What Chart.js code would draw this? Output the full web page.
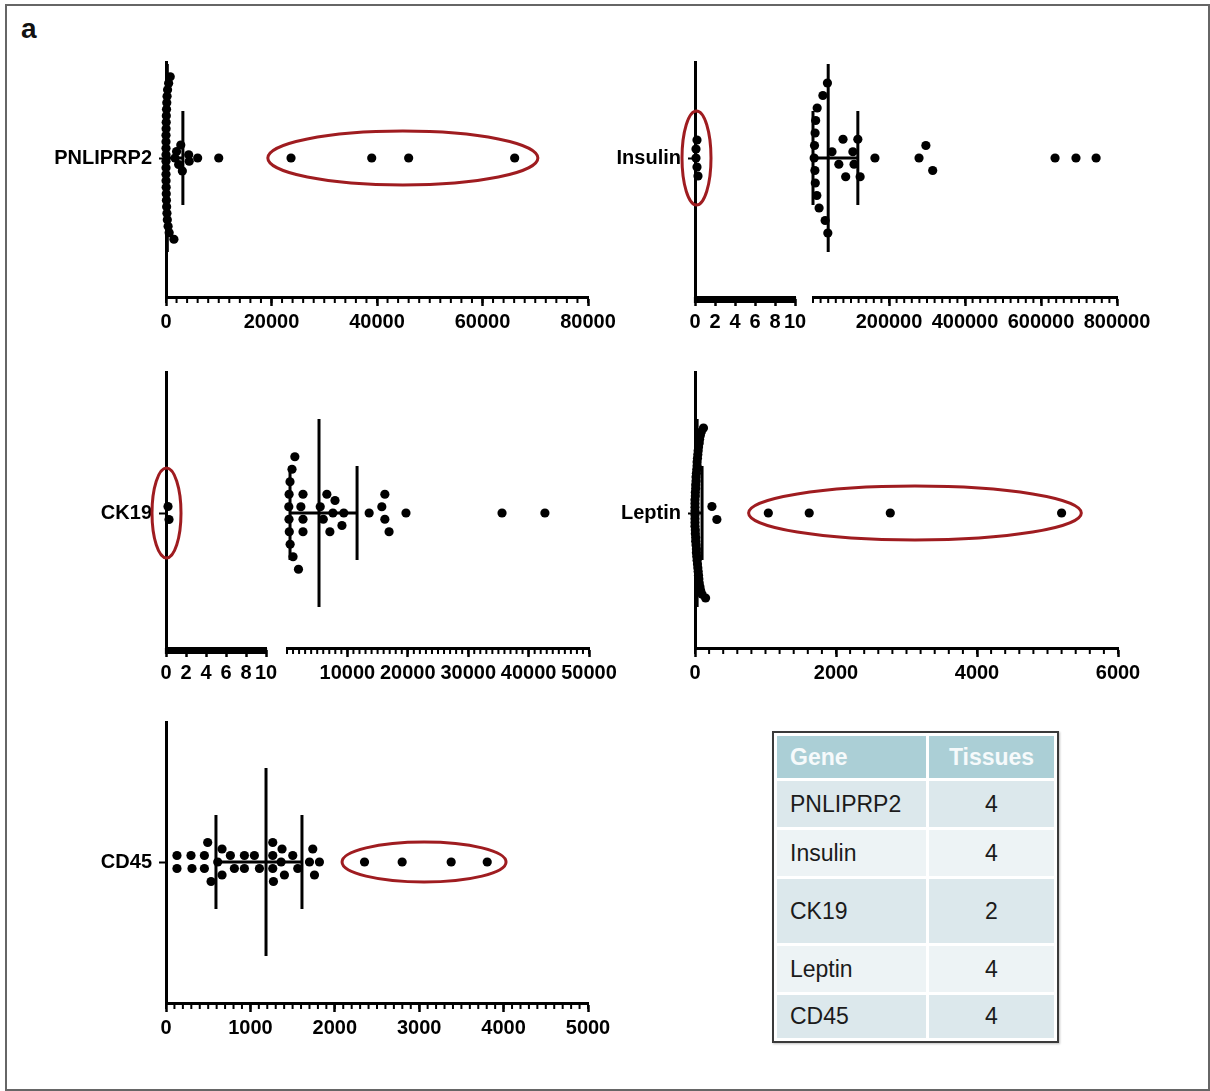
<!DOCTYPE html>
<html>
<head>
<meta charset="utf-8">
<script src="https://cdn.jsdelivr.net/npm/chart.js@4.4.1/dist/chart.umd.min.js"></script>
<style>
  body { margin: 0; background: #fff; }
  #fig { position: relative; width: 1210px; height: 1091px; overflow: hidden; font-family: 'Liberation Sans', Arial, sans-serif; }
  #frame { position: absolute; left: 5px; top: 4px; width: 1201px; height: 1083px; border: 2px solid #666; }
  #tag { position: absolute; left: 21px; top: 13px; font-size: 28px; font-weight: bold; color: #111; }
  canvas { position: absolute; }
  #tissues { position: absolute; left: 772px; top: 731px; border: 2px solid #3a3a3a; border-collapse: separate; border-spacing: 3px;
             background: #fff; font-size: 23px; color: #1b1b1b; box-shadow: 1px 1px 2px rgba(0,0,0,.25); }
  #tissues th, #tissues td { box-sizing: border-box; padding: 0 0 0 13px; text-align: left; font-weight: normal; }
  #tissues th { background: #abcfd6; color: #f6fafb; font-weight: bold; height: 42px; }
  #tissues td.n, #tissues th.n { text-align: center; padding: 0; }
  #tissues tr:nth-child(odd) td { background: #dce8ec; }
  #tissues tr:nth-child(even) td { background: #edf3f5; }
</style>
</head>
<body>
<div id="fig">
  <div id="frame"></div>
  <div id="tag">a</div>
  <table id="tissues">
    <thead><tr><th style="width:149px">Gene</th><th class="n" style="width:125px">Tissues</th></tr></thead>
    <tbody id="tissueRows"></tbody>
  </table>
</div>
<script>
// values (one dot per sample)
const genes   = ['PNLIPRP2', 'Insulin', 'CK19', 'Leptin', 'CD45'];
const tissues = [4, 4, 2, 4, 4];
const rowHeights = [46, 46, 64, 46, 43];

const pnliprp2 = [0, 0, 0, 0, 0, 0, 0, 10, 20, 30, 40, 50, 60, 80, 100, 120, 150, 180, 200, 250, 300, 400, 500, 600, 800, 1500,
  1700, 2000, 2400, 2800, 3100, 4300, 4400, 6000, 10000, 23700, 39000, 46000, 66100];
const insulin = [0.1, 0.1, 0.2, 0.2, 0.3,
  3000, 4000, 5000, 5500, 6000, 7000, 10000, 11000, 16000, 26000, 32000, 38000, 39000,
  50000, 68000, 79000, 86000, 105000, 108000, 118000, 124000, 163000,
  279000, 297000, 315000, 637000, 692000, 745000];
const ck19 = [0.2, 0.3,
  300, 330, 350, 380, 500, 520, 830, 1000, 1300, 1900,
  2300, 2650, 2650, 2650, 5500, 6000, 6600, 7100, 7600, 7950, 9100, 9400,
  13600, 15700, 16200, 16200, 16900, 19700, 35600, 42700];
const leptin = [0, 0, 0, 0, 0, 0, 0, 0, 5, 5, 5, 5, 10, 10, 10, 10, 15, 15, 15, 20, 20, 20, 25, 25,
  30, 30, 30, 35, 35, 40, 40, 45, 45, 50, 50, 55, 60, 60, 65, 70, 75, 80, 90, 100, 120, 150,
  240, 310, 1040, 1620, 2770, 5200];
const cd45 = [130, 130, 296, 308, 455, 455, 494, 534, 613, 664, 664, 763, 810, 929, 929, 1047, 1107,
  1265, 1265, 1265, 1273, 1364, 1375, 1403, 1502, 1561, 1700, 1739, 1759, 1818, 2352, 2798, 3379, 3806];

// median, lower quartile, upper quartile
const pnliprp2Stats = [250, 0, 3200];
const insulinStats  = [40000, 0, 118000];
const ck19Stats     = [5300, 500, 11600];
const leptinStats   = [30, 5, 100];
const cd45Stats     = [1185, 592, 1611];

// tick labels
const pnliprp2Ticks = [0, 20000, 40000, 60000, 80000];
const lowTicks      = [0, 2, 4, 6, 8, 10];
const insulinTicks  = [200000, 400000, 600000, 800000];
const ck19Ticks     = [10000, 20000, 30000, 40000, 50000];
const leptinTicks   = [0, 2000, 4000, 6000];
const cd45Ticks     = [0, 1000, 2000, 3000, 4000, 5000];

// circled samples (value span of each red ring)
const pnliprp2Ring = [19300, 70500];
const insulinRing  = [-1.3, 1.6];
const ck19Ring     = [-1.4, 1.5];
const leptinRing   = [760, 5480];
const cd45Ring     = [2086, 4029];

// table
document.getElementById('tissueRows').innerHTML = genes.map((g, i) =>
  `<tr style="height:${rowHeights[i]}px"><td>${g}</td><td class="n">${tissues[i]}</td></tr>`).join('');

Chart.defaults.font.family = "'Liberation Sans', Arial, sans-serif";
Chart.defaults.color = '#000';

const TICK_FONT = { size: 20, weight: 'bold' };
const MEDIAN_HALF = 94, QUART_HALF = 47;

// small ticks under the x axis
const minorTicks = {
  id: 'minorTicks',
  afterDraw(chart, args, opts) {
    const s = chart.scales.x, ctx = chart.ctx;
    const n = Math.round((s.max - s.min) / opts.step);
    ctx.save();
    ctx.strokeStyle = '#000';
    ctx.lineWidth = opts.width;
    ctx.beginPath();
    for (let i = 0; i <= n; i++) {
      const x = s.getPixelForValue(s.min + i * opts.step);
      ctx.moveTo(x, s.top);
      ctx.lineTo(x, s.top + opts.len);
    }
    ctx.stroke();
    ctx.restore();
  }
};

// red ring round the marked samples
const outlierRing = {
  id: 'outlierRing',
  afterDatasetsDraw(chart, args, opts) {
    if (!opts.range) return;
    const x = chart.scales.x, y = chart.scales.y, ctx = chart.ctx;
    const x0 = x.getPixelForValue(opts.range[0]), x1 = x.getPixelForValue(opts.range[1]);
    const cy = y.getPixelForValue(0);
    const ry = Math.abs(y.getPixelForValue(opts.half) - cy);
    ctx.save();
    ctx.strokeStyle = '#9f1c20';
    ctx.lineWidth = 3;
    ctx.beginPath();
    ctx.ellipse((x0 + x1) / 2, cy, (x1 - x0) / 2, ry, 0, 0, Math.PI * 2);
    ctx.stroke();
    ctx.restore();
  }
};

// prism-like scatter: dots that fall in the same bin are stacked, smallest in the middle
function swarm(values, scale, binPx, stepPx, spanPx) {
  const order = values.map((v, i) => i).sort((a, b) => values[a] - values[b]);
  const ys = new Array(values.length).fill(0);
  let i = 0;
  while (i < order.length) {
    const start = scale.getPixelForValue(values[order[i]]);
    let j = i;
    while (j < order.length && scale.getPixelForValue(values[order[j]]) - start < binPx) j++;
    const grp = order.slice(i, j), n = grp.length;
    const step = n > 1 ? Math.min(stepPx, spanPx / (n - 1)) : 0;
    const slots = grp.map((_, k) => (k - (n - 1) / 2) * step)
      .sort((a, b) => Math.abs(a) - Math.abs(b) || b - a);
    grp.forEach((idx, k) => { ys[idx] = slots[k]; });
    i = j;
  }
  return ys;
}

function makeChart(p) {
  const axisW = p.label ? 140 : 0;
  const padL = p.label ? 0 : 12, padT = 12, padR = 40, axisH = 45;
  const [aL, aT, aR, aB] = p.area;
  const left = aL - axisW - padL, top = aT - padT;
  const w = aR + padR - left, h = aB + axisH - top;

  const canvas = document.createElement('canvas');
  canvas.width = w; canvas.height = h;
  canvas.style.left = left + 'px'; canvas.style.top = top + 'px';
  canvas.style.width = w + 'px'; canvas.style.height = h + 'px';
  document.getElementById('fig').appendChild(canvas);

  const datasets = [{
    data: p.values.map(v => ({ x: v, y: 0 })),
    pointRadius: 4.6, pointHoverRadius: 4.6, backgroundColor: '#000', borderWidth: 0, clip: false,
  }];
  if (p.stats) {
    const [med, q1, q3] = p.stats;
    [[q1, 0, q3, 0], [med, -MEDIAN_HALF, med, MEDIAN_HALF], [q1, -QUART_HALF, q1, QUART_HALF], [q3, -QUART_HALF, q3, QUART_HALF]]
      .forEach(([xa, ya, xb, yb]) => datasets.push({
        data: [{ x: xa, y: ya }, { x: xb, y: yb }],
        showLine: true, borderColor: '#000', borderWidth: 3, pointRadius: 0, clip: false,
      }));
  }

  const chart = new Chart(canvas, {
    type: 'scatter',
    data: { datasets },
    options: {
      responsive: false, animation: false, devicePixelRatio: 1, events: [],
      layout: { padding: { left: padL, top: padT, right: padR, bottom: 0 } },
      plugins: {
        legend: { display: false }, tooltip: { enabled: false },
        minorTicks: { step: p.minor, len: 6, width: p.range[1] <= 10 ? 2.2 : 2 },
        outlierRing: { range: p.ring || null, half: p.ringHalf || 0 },
      },
      scales: {
        x: {
          type: 'linear', position: 'bottom', min: p.range[0], max: p.range[1],
          afterBuildTicks: s => { s.ticks = p.ticks.map(v => ({ value: v })); },
          ticks: { callback: v => String(v), autoSkip: false, maxRotation: 0, minRotation: 0, font: TICK_FONT, color: '#000', padding: 4 },
          grid: { drawOnChartArea: false, drawTicks: true, tickLength: 9, tickWidth: 2.5, tickColor: '#000' },
          border: { display: true, color: '#000', width: 3 },
          afterFit: s => { s.height = axisH; s.paddingLeft = 0; s.paddingRight = 0; },
        },
        y: {
          type: 'linear', display: !!p.label,
          min: p.center - aB, max: p.center - aT,
          afterBuildTicks: s => { s.ticks = [{ value: 0 }]; },
          ticks: { callback: () => p.label, font: TICK_FONT, color: '#000', padding: 7 },
          grid: { drawOnChartArea: false, drawTicks: true, tickLength: 7, tickWidth: 2, tickColor: '#000' },
          border: { display: true, color: '#000', width: 3 },
          afterFit: s => { s.width = axisW; s.paddingTop = 0; s.paddingBottom = 0; },
        },
      },
    },
    plugins: [minorTicks, outlierRing],
  });

  const ys = swarm(p.values, chart.scales.x, p.bin, p.step, p.span || 166);
  chart.data.datasets[0].data = p.values.map((v, i) => ({ x: v, y: ys[i] }));
  chart.update('none');
  return chart;
}

const panels = [
  { label: genes[0], values: pnliprp2, stats: pnliprp2Stats, area: [166, 62, 588, 297], center: 158,
    range: [0, 80000], ticks: pnliprp2Ticks, minor: 2000, ring: pnliprp2Ring, ringHalf: 27, bin: 8.5, step: 6.5 },
  { label: genes[1], values: insulin.filter(v => v <= 10), area: [695, 62, 795, 297], center: 158,
    range: [0, 10], ticks: lowTicks, minor: 0.2, ring: insulinRing, ringHalf: 47, bin: 14, step: 9 },
  { values: insulin.filter(v => v > 10), stats: insulinStats, area: [813, 62, 1117, 297], center: 158,
    range: [0, 800000], ticks: insulinTicks, minor: 20000, bin: 14, step: 12.5 },
  { label: genes[2], values: ck19.filter(v => v <= 10), area: [166, 372, 266, 648], center: 513,
    range: [0, 10], ticks: lowTicks, minor: 0.2, ring: ck19Ring, ringHalf: 45, bin: 14, step: 13 },
  { values: ck19.filter(v => v > 10), stats: ck19Stats, area: [287, 372, 589, 648], center: 513,
    range: [0, 50000], ticks: ck19Ticks, minor: 1000, bin: 10, step: 12.5 },
  { label: genes[3], values: leptin, stats: leptinStats, area: [695, 372, 1118, 648], center: 513,
    range: [0, 6000], ticks: leptinTicks, minor: 200, ring: leptinRing, ringHalf: 27, bin: 12, step: 13, span: 170 },
  { label: genes[4], values: cd45, stats: cd45Stats, area: [166, 722, 588, 1003], center: 862,
    range: [0, 5000], ticks: cd45Ticks, minor: 100, ring: cd45Ring, ringHalf: 20, bin: 8, step: 13 },
];

panels.forEach(makeChart);
</script>
</body>
</html>
